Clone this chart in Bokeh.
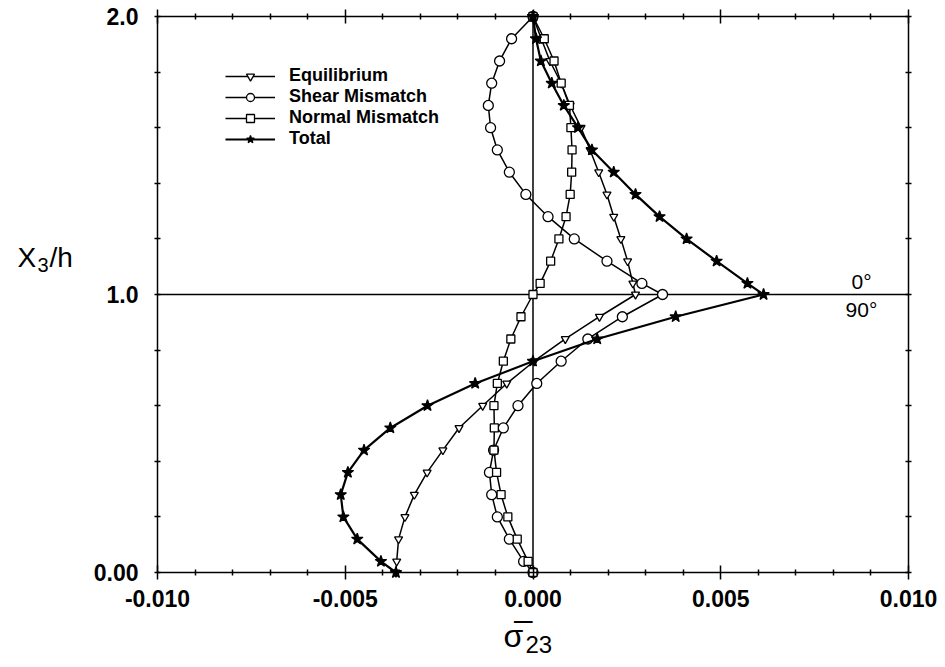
from bokeh.plotting import figure
from bokeh.models import (Range1d, LinearAxis, FixedTicker, PrintfTickFormatter,
                          Label, Legend, LegendItem)
from bokeh.embed import file_html
from bokeh.resources import INLINE

# ---------------- data ----------------
x3_h = [2.00, 1.92, 1.84, 1.76, 1.68, 1.60, 1.52, 1.44, 1.36, 1.28, 1.20, 1.12, 1.04,
        1.00, 0.92, 0.84, 0.76, 0.68, 0.60, 0.52, 0.44, 0.36, 0.28, 0.20, 0.12, 0.04, 0.00]

equilibrium = [0.0, 0.00022, 0.00045, 0.00075, 0.00099, 0.00128, 0.00152, 0.00175, 0.00197,
               0.00215, 0.00234, 0.00252, 0.00266, 0.00273, 0.00177, 0.00086, 0.00003,
               -0.00070, -0.00134, -0.00197, -0.00240, -0.00282, -0.00316, -0.00341,
               -0.00358, -0.00363, -0.00365]

shear_mismatch = [0.0, -0.00057, -0.00089, -0.00110, -0.00119, -0.00113, -0.00095, -0.00063,
                  -0.00019, 0.00040, 0.00110, 0.00197, 0.00290, 0.00345, 0.00238, 0.00146,
                  0.00075, 0.00010, -0.00040, -0.00079, -0.00105, -0.00116, -0.00110,
                  -0.00095, -0.00063, -0.00025, 0.0]

normal_mismatch = [0.0, 0.00030, 0.00056, 0.00075, 0.00097, 0.00101, 0.00104, 0.00103,
                   0.00099, 0.00088, 0.00069, 0.00047, 0.00019, 0.0, -0.00032, -0.00059,
                   -0.00079, -0.00095, -0.00104, -0.00103, -0.00104, -0.00097, -0.00085,
                   -0.00067, -0.00042, -0.00013, 0.0]

total = [0.0, 0.00008, 0.00021, 0.00050, 0.00082, 0.00120, 0.00157, 0.00215, 0.00273,
         0.00337, 0.00409, 0.00489, 0.00571, 0.00614, 0.00380, 0.00171, 0.0, -0.00154,
         -0.00281, -0.00380, -0.00450, -0.00493, -0.00512, -0.00505, -0.00468, -0.00405,
         -0.00365]

x_major_ticks = [-0.010, -0.005, 0.0, 0.005, 0.010]
x_minor_ticks = [-0.009, -0.008, -0.007, -0.006, -0.004, -0.003, -0.002, -0.001,
                 0.001, 0.002, 0.003, 0.004, 0.006, 0.007, 0.008, 0.009]
y_major_ticks = [0, 1, 2]
y_tick_labels = ["0.00", "1.0", "2.0"]
y_minor_ticks = [0.2, 0.4, 0.6, 0.8, 1.2, 1.4, 1.6, 1.8]

series_names = ["Equilibrium", "Shear Mismatch", "Normal Mismatch", "Total"]
ply_interface = 1.0
ply_labels = ["0°", "90°"]

# ---------------- layout geometry (pixels) ----------------
W, H = 937, 659
BOX_L, BOX_R, BOX_T, BOX_B = 157, 908, 16, 572
X_MIN, X_MAX = x_major_ticks[0], x_major_ticks[-1]
Y_MIN, Y_MAX = y_major_ticks[0], y_major_ticks[-1]
sx = (BOX_R - BOX_L) / (X_MAX - X_MIN)
sy = (BOX_B - BOX_T) / (Y_MAX - Y_MIN)
xr = Range1d(X_MIN - BOX_L / sx, X_MAX + (W - BOX_R) / sx)
yr = Range1d(Y_MIN - (H - BOX_B) / sy, Y_MAX + BOX_T / sy)


def px_x(px):
    return xr.start + px / sx


def px_y(py):
    return yr.end - py / sy


FONT = "Liberation Sans"
p = figure(width=W, height=H, output_backend="svg", toolbar_location=None,
           x_range=xr, y_range=yr, min_border=0,
           x_axis_location=None, y_axis_location=None)
p.grid.visible = False
p.outline_line_color = None
p.background_fill_color = "white"
p.border_fill_color = "white"


def make_axis(kind, loc, labeled):
    if kind == "x":
        ax = LinearAxis(fixed_location=loc, bounds=(X_MIN, X_MAX))
        ax.ticker = FixedTicker(ticks=x_major_ticks, minor_ticks=x_minor_ticks)
        ax.formatter = PrintfTickFormatter(format="%.3f")
        ax.major_tick_in = 7
        ax.major_tick_out = 7
        ax.major_label_standoff = 10
    else:
        ax = LinearAxis(fixed_location=loc, bounds=(Y_MIN, Y_MAX))
        ax.ticker = FixedTicker(ticks=y_major_ticks, minor_ticks=y_minor_ticks)
        ax.major_label_overrides = {t: s for t, s in zip(y_major_ticks, y_tick_labels)}
        ax.major_tick_in = 3
        ax.major_tick_out = 3
        ax.major_label_standoff = 16
    ax.minor_tick_in = 3
    ax.minor_tick_out = 3
    for attr in ("axis_line", "major_tick_line", "minor_tick_line"):
        setattr(ax, attr + "_color", "black")
        setattr(ax, attr + "_width", 1.5)
    ax.major_label_text_font = FONT
    ax.major_label_text_font_style = "bold"
    ax.major_label_text_font_size = "23px"
    ax.major_label_text_color = "black" if labeled else None
    return ax


p.add_layout(make_axis("x", Y_MIN, True), "below")
p.add_layout(make_axis("x", Y_MAX, False), "above")
p.add_layout(make_axis("y", X_MIN, True), "left")
p.add_layout(make_axis("y", X_MAX, False), "right")

# interface line (0°/90° plies) and zero-stress line
p.segment(x0=[X_MIN], y0=[ply_interface], x1=[X_MAX], y1=[ply_interface],
          line_color="black", line_width=1.5)
p.segment(x0=[0.0], y0=[Y_MIN], x1=[0.0], y1=[Y_MAX], line_color="black", line_width=1.5)

styles = [
    (equilibrium, "inverted_triangle", 8, "white", 1.5),
    (shear_mismatch, "circle", 10, "white", 1.5),
    (normal_mismatch, "square", 8, "white", 1.5),
    (total, "star", 12, "black", 2.2),
]

items = []
for name, (vals, marker, size, fill, lw) in zip(series_names, styles):
    ln = p.line(vals, x3_h, line_color="black", line_width=lw)
    sc = p.scatter(vals, x3_h, marker=marker, size=size, fill_color=fill,
                   line_color="black", line_width=1.3)
    items.append(LegendItem(label=name, renderers=[ln, sc]))

legend = Legend(items=items, location=(225, 510), orientation="vertical",
                label_text_font=FONT, label_text_font_style="bold",
                label_text_font_size="18px", label_text_color="black",
                glyph_width=50, glyph_height=20, label_height=20, spacing=0,
                padding=0, margin=0, label_standoff=14,
                border_line_color=None, background_fill_alpha=0)
p.add_layout(legend)

# ply orientation labels
for txt, yy in zip(ply_labels, [1.047, 0.947]):
    p.add_layout(Label(x=px_x(861), y=yy, text=txt, text_font=FONT,
                       text_font_size="21px", text_align="center", text_baseline="middle",
                       text_color="black"))

# y-axis title  X3/h
p.add_layout(Label(x=px_x(17), y=px_y(257), text="X", text_font=FONT, text_font_size="28px",
                   text_align="left", text_baseline="middle", text_color="black"))
p.add_layout(Label(x=px_x(37), y=px_y(264), text="3", text_font=FONT, text_font_size="20px",
                   text_align="left", text_baseline="middle", text_color="black"))
p.add_layout(Label(x=px_x(49), y=px_y(257), text="/h", text_font=FONT, text_font_size="28px",
                   text_align="left", text_baseline="middle", text_color="black"))

# x-axis title  sigma-bar 23
p.add_layout(Label(x=px_x(503), y=px_y(635), text="σ\u0305", text_font=FONT,
                   text_font_size="32px", text_align="left", text_baseline="middle",
                   text_color="black"))
p.add_layout(Label(x=px_x(525), y=px_y(644), text="23", text_font=FONT,
                   text_font_size="24px", text_align="left", text_baseline="middle",
                   text_color="black"))

open("out.html", "w").write(file_html(p, INLINE))
